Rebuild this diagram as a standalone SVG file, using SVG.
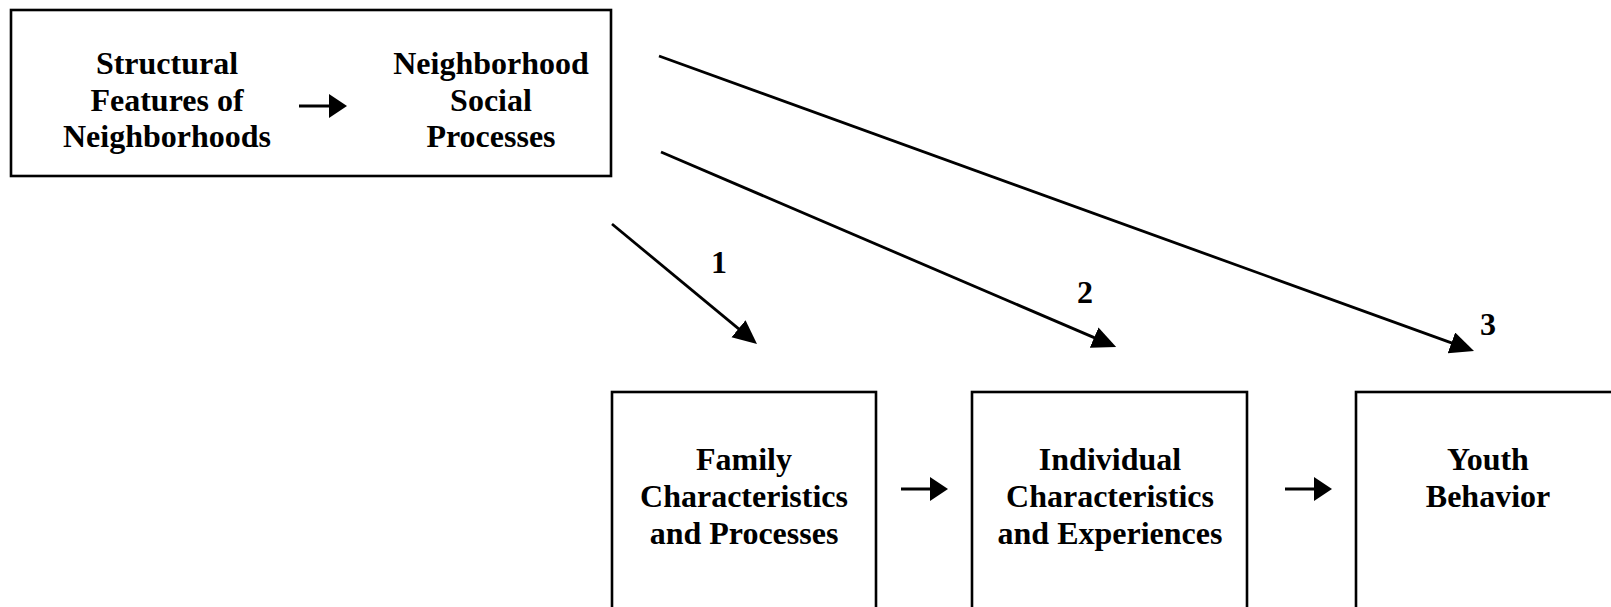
<svg xmlns="http://www.w3.org/2000/svg" width="1611" height="607" viewBox="0 0 1611 607">
  <style>
    .box { fill: #ffffff; stroke: #000000; stroke-width: 2.6; }
    .lbl { font-family: "Liberation Serif", "Times New Roman", serif; font-weight: bold; font-size: 32px; fill: #000000; text-anchor: middle; }
    .conn { stroke: #000000; stroke-width: 2.8; fill: none; }
  </style>
  <defs>
    <marker id="bigHead" markerUnits="userSpaceOnUse" markerWidth="26" markerHeight="24" refX="14" refY="11" orient="auto">
      <path d="M0,0 L24,11 L0,22 Z" fill="#000000"/>
    </marker>
    <marker id="smallHead" markerUnits="userSpaceOnUse" markerWidth="20" markerHeight="26" refX="9" refY="12" orient="auto">
      <path d="M0,0 L18,12 L0,24 Z" fill="#000000"/>
    </marker>
  </defs>
  <rect width="1611" height="607" fill="#ffffff"/>

  <g id="neighborhood-box">
    <rect class="box" x="11" y="10" width="600" height="166"/>
  </g>
  <g id="structural-features">
    <text class="lbl" x="167" y="74">Structural</text>
    <text class="lbl" x="167" y="110.5">Features of</text>
    <text class="lbl" x="167" y="147">Neighborhoods</text>
  </g>
  <g id="neighborhood-social-processes">
    <text class="lbl" x="491" y="74">Neighborhood</text>
    <text class="lbl" x="491" y="110.5">Social</text>
    <text class="lbl" x="491" y="147">Processes</text>
  </g>
  <g id="family">
    <rect class="box" x="612" y="392" width="264" height="230"/>
    <text class="lbl" x="744" y="470">Family</text>
    <text class="lbl" x="744" y="507">Characteristics</text>
    <text class="lbl" x="744" y="544">and Processes</text>
  </g>
  <g id="individual">
    <rect class="box" x="972" y="392" width="275" height="230"/>
    <text class="lbl" x="1110" y="470">Individual</text>
    <text class="lbl" x="1110" y="507">Characteristics</text>
    <text class="lbl" x="1110" y="544">and Experiences</text>
  </g>
  <g id="youth">
    <rect class="box" x="1356" y="392" width="280" height="230"/>
    <text class="lbl" x="1488" y="470">Youth</text>
    <text class="lbl" x="1488" y="507">Behavior</text>
  </g>

  <g id="connectors">
    <line class="conn" x1="299" y1="106" x2="338" y2="106" marker-end="url(#smallHead)"/>
    <line class="conn" x1="901" y1="489" x2="939" y2="489" marker-end="url(#smallHead)"/>
    <line class="conn" x1="1285" y1="489" x2="1323" y2="489" marker-end="url(#smallHead)"/>
    <line class="conn" x1="612" y1="224" x2="749.3" y2="337.6" marker-end="url(#bigHead)"/>
    <line class="conn" x1="661" y1="152" x2="1107" y2="343.1" marker-end="url(#bigHead)"/>
    <line class="conn" x1="659" y1="56" x2="1464.6" y2="347.6" marker-end="url(#bigHead)"/>
    <text class="lbl" x="719" y="273">1</text>
    <text class="lbl" x="1085" y="303">2</text>
    <text class="lbl" x="1488" y="335">3</text>
  </g>
</svg>
